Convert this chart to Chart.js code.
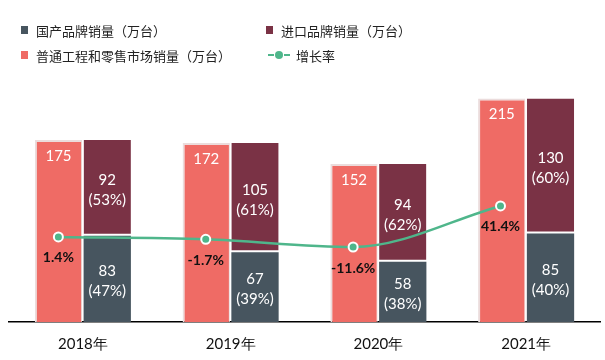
<!DOCTYPE html>
<html>
<head>
<meta charset="utf-8">
<script src="https://cdn.jsdelivr.net/npm/chart.js@4.4.0/dist/chart.umd.min.js"></script>
<style>
  html, body { margin: 0; padding: 0; background: #fff; }
  #wrap { position: relative; width: 605px; height: 360px; }
  #wrap canvas { position: absolute; left: 0; top: 0; }
  #legend { position: absolute; left: 0; top: 0; width: 605px; height: 80px; font-family: "Noto Sans CJK SC", sans-serif; font-size: 13px; color: #222; z-index: 2; }
  .item { position: absolute; display: flex; align-items: center; height: 20px; }
  .sq { width: 7px; height: 8px; margin-right: 8px; }
  .ln { position: relative; width: 22px; height: 8px; margin-right: 6px; }
  .ln:before { content: ''; position: absolute; left: 0; right: 0; top: 3px; border-top: 2.5px dashed #4fb68b; }
  .ln:after { content: ''; position: absolute; left: 7px; top: 0; width: 8px; height: 8px; border-radius: 50%; background: #4fb68b; }
</style>
</head>
<body>
<div id="wrap">
  <div id="legend">
    <div class="item" style="left:21px; top:20px"><span class="sq" style="background:#47555f"></span>国产品牌销量（万台）</div>
    <div class="item" style="left:266px; top:20px"><span class="sq" style="background:#7a3245"></span>进口品牌销量（万台）</div>
    <div class="item" style="left:21px; top:45px"><span class="sq" style="background:#ef6b65"></span>普通工程和零售市场销量（万台）</div>
    <div class="item" style="left:268px; top:45px"><span class="ln"></span>增长率</div>
  </div>
  <canvas id="bars" width="605" height="360"></canvas>
  <canvas id="rate" width="605" height="360"></canvas>
</div>
<script>
const years = ['2018年', '2019年', '2020年', '2021年'];
const retailSales = [175, 172, 152, 215];
const domesticSales = [83, 67, 58, 85];
const importSales = [92, 105, 94, 130];
const growthRate = [1.4, -1.7, -11.6, 41.4];

const categoryPct = 0.66;
const labelFont = '"Lato", "DejaVu Sans", sans-serif';

// numbers inside the bars
const barLabels = {
  id: 'barLabels',
  afterDatasetsDraw(chart) {
    const ctx = chart.ctx;
    ctx.save();
    ctx.textAlign = 'center';
    ctx.textBaseline = 'middle';
    ctx.font = '15px ' + labelFont;
    ctx.fillStyle = '#fff';

    chart.getDatasetMeta(0).data.forEach((bar, i) => {
      ctx.fillText(retailSales[i], bar.x, bar.y + 16);
    });

    [1, 2].forEach(di => {
      const vals = di === 1 ? domesticSales : importSales;
      chart.getDatasetMeta(di).data.forEach((bar, i) => {
        const total = domesticSales[i] + importSales[i];
        const pct = Math.round(vals[i] / total * 100);
        const mid = (bar.y + bar.base) / 2 + 2;
        ctx.fillText(vals[i], bar.x, mid - 10);
        ctx.fillText('(' + pct + '%)', bar.x, mid + 10);
      });
    });
    ctx.restore();
  }
};

// growth rate text under each point
const rateLabels = {
  id: 'rateLabels',
  afterDatasetsDraw(chart) {
    const ctx = chart.ctx;
    ctx.save();
    ctx.textAlign = 'center';
    ctx.textBaseline = 'middle';
    ctx.font = 'bold 14px ' + labelFont;
    ctx.fillStyle = '#111';
    chart.getDatasetMeta(0).data.forEach((pt, i) => {
      ctx.fillText(growthRate[i].toFixed(1) + '%', pt.x, pt.y + 21);
    });
    ctx.restore();
  }
};

const barChart = new Chart(document.getElementById('bars'), {
  type: 'bar',
  data: {
    labels: years,
    datasets: [
      {
        label: '普通工程和零售市场销量（万台）',
        data: retailSales,
        stack: 'retail',
        backgroundColor: '#ef6b65',
        borderColor: '#ebdcdc',
        borderWidth: { left: 2, top: 2, right: 1 },
        borderSkipped: 'bottom'
      },
      {
        label: '国产品牌销量（万台）',
        data: domesticSales,
        stack: 'brand',
        backgroundColor: '#47555f',
        borderWidth: 0
      },
      {
        label: '进口品牌销量（万台）',
        data: importSales,
        stack: 'brand',
        backgroundColor: '#7a3245',
        borderColor: '#ffffff',
        borderWidth: { bottom: 2 },
        borderSkipped: false
      }
    ]
  },
  options: {
    responsive: false,
    animation: false,
    categoryPercentage: categoryPct,
    barPercentage: 0.97,
    layout: { padding: { top: 88, left: 9, right: 5, bottom: 0 } },
    plugins: { legend: { display: false }, tooltip: { enabled: false } },
    scales: {
      x: {
        stacked: true,
        grid: { display: false },
        border: { display: true, color: '#000', width: 1.5 },
        ticks: { color: '#111', padding: 5, font: { family: labelFont, size: 15 } },
        afterFit: (scale) => { scale.height = 38; }
      },
      y: { stacked: true, display: false, min: 0, max: 225 }
    }
  },
  plugins: [barLabels]
});

// the rate line sits on its own canvas over the same chart area,
// its points centred on the left (retail) bar of each year
const area = barChart.chartArea;
new Chart(document.getElementById('rate'), {
  type: 'line',
  data: {
    datasets: [{
      label: '增长率',
      data: growthRate.map((v, i) => ({ x: i, y: v })),
      borderColor: '#4fb68b',
      borderWidth: 2.5,
      cubicInterpolationMode: 'monotone',
      pointRadius: 4.5,
      pointBackgroundColor: '#4fb68b',
      pointBorderColor: '#ffffff',
      pointBorderWidth: 2,
      clip: false
    }]
  },
  options: {
    responsive: false,
    animation: false,
    layout: { padding: { top: area.top, left: area.left, right: 605 - area.right, bottom: 360 - area.bottom } },
    plugins: { legend: { display: false }, tooltip: { enabled: false } },
    scales: {
      x: { type: 'linear', display: false, min: -0.5 + categoryPct / 4, max: 3.5 + categoryPct / 4 },
      y: { display: false, min: -108.5, max: 193.8 }
    }
  },
  plugins: [rateLabels]
});
</script>
</body>
</html>
